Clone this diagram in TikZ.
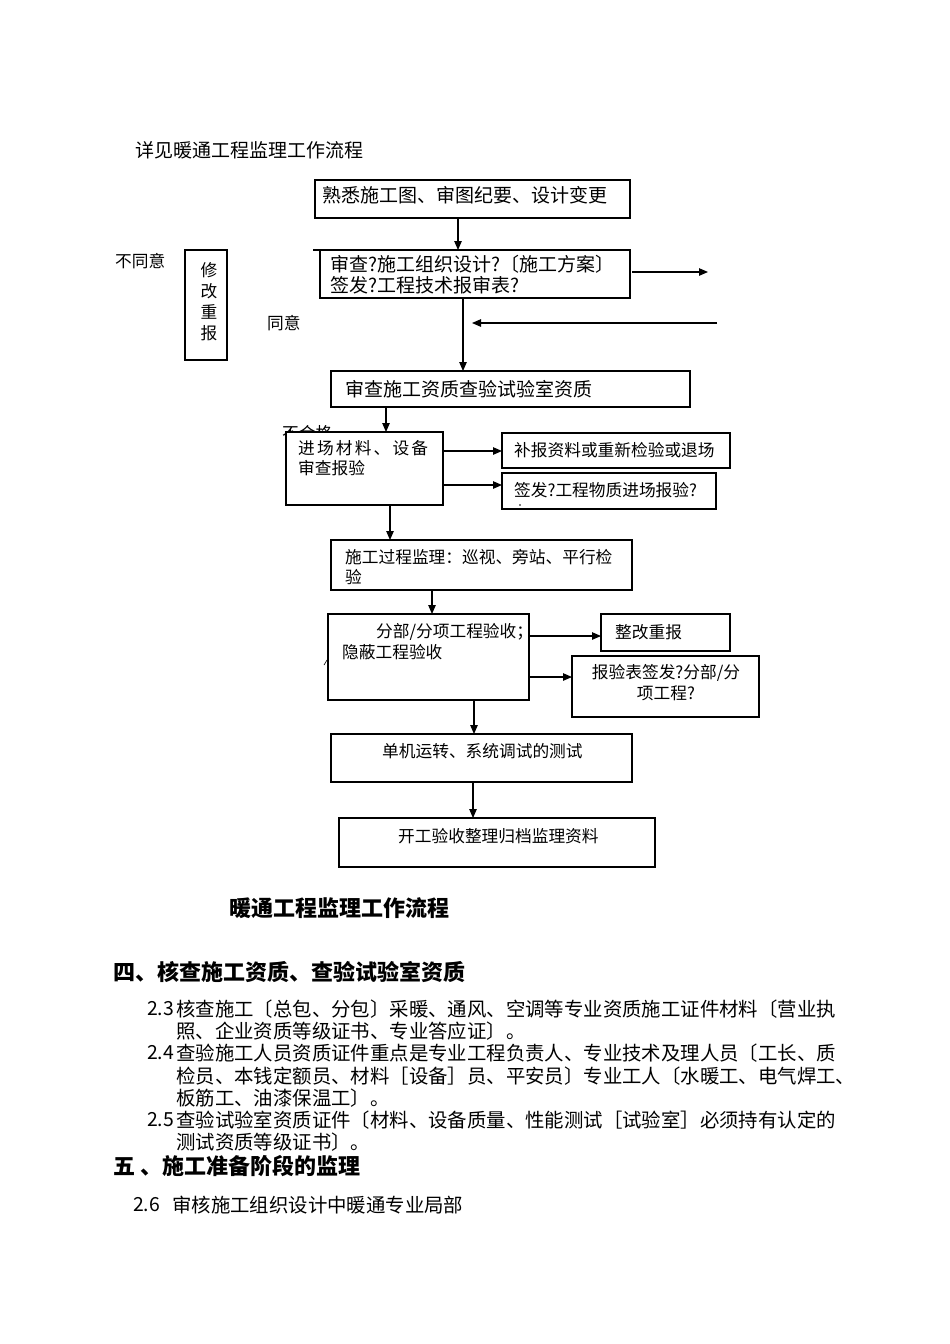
\documentclass[tikz,border=0pt]{standalone}
\usepackage{fontspec}
\setmainfont{Noto Sans CJK SC}
\usetikzlibrary{arrows.meta}
\newcommand\myfs[1]{\fontsize{#1}{#1}\selectfont}
\begin{document}
\begin{tikzpicture}[x=1pt,y=-1pt,
  box/.style={draw, line width=1.1pt, fill=white, inner sep=0pt, outer sep=0pt, anchor=north west},
  txt/.style={anchor=west, inner sep=0pt, font=\myfs{16.7}},
  big/.style={anchor=west, inner sep=0pt, font=\myfs{19}},
  body/.style={anchor=west, inner sep=0pt, font=\myfs{19.4}},
  head/.style={anchor=west, inner sep=0pt, font=\myfs{22}\bfseries},
  arr/.style={-{Triangle[length=9pt,width=7.5pt]}, line width=1.1pt},
  ln/.style={line width=1.1pt}]
\useasboundingbox (0,0) rectangle (950,1344);
\fill[white] (0,0) rectangle (950,1344);

% guide coordinates
\coordinate (x458) at (458,0);
\coordinate (x463) at (463,0);
\coordinate (x386) at (386,0);
\coordinate (x390) at (390,0);
\coordinate (x432) at (432,0);
\coordinate (x474) at (474,0);
\coordinate (x473) at (473,0);
\coordinate (y272) at (0,272);
\coordinate (y451) at (0,451);
\coordinate (y485) at (0,485);
\coordinate (y636) at (0,636);
\coordinate (y677) at (0,677);
\coordinate (outR) at (708,272);
\coordinate (inR) at (717,323);
\coordinate (inL) at (472,323);

\node[big] (title) at (135,150) {详见暖通工程监理工作流程};

% boxes
\node[box, minimum width=315pt, minimum height=38pt] (b1) at (315,180) {};
\node[box, minimum width=310pt, minimum height=48pt] (b2) at (320,250) {};
\node[box, minimum width=42pt, minimum height=110pt] (bx) at (185,250) {};
\node[box, minimum width=359pt, minimum height=36pt] (b3) at (331,371) {};
\node[txt, font=\myfs{16.7}] (ng) at (282,433) {不合格};
\node[box, minimum width=157pt, minimum height=73pt] (b4) at (286,432) {};
\node[box, minimum width=228pt, minimum height=35pt] (b5) at (502,433) {};
\node[box, minimum width=214pt, minimum height=36pt] (b6) at (502,473) {};
\node[box, minimum width=301pt, minimum height=50pt] (b7) at (331,540) {};
\node[box, minimum width=201pt, minimum height=86pt] (b8) at (328,614) {};
\node[box, minimum width=129pt, minimum height=37pt] (b9) at (601,614) {};
\node[box, minimum width=187pt, minimum height=61pt] (b10) at (572,656) {};
\node[box, minimum width=301pt, minimum height=48pt] (b11) at (331,734) {};
\node[box, minimum width=316pt, minimum height=49pt] (b12) at (339,818) {};

% texts
\node[big] (t1) at (322,195) {熟悉施工图、审图纪要、设计变更};
\node[big] (t2a) at (330,264) {审查?施工组织设计?〔施工方案〕};
\node[big] (t2b) at (330,285) {签发?工程技术报审表?};
\node[txt] (nd) at (115,261) {不同意};
\node[txt] (ag) at (267,323) {同意};
\node[txt, anchor=center] (v1) at (209,270) {修};
\node[txt, anchor=center] (v2) at (209,291) {改};
\node[txt, anchor=center] (v3) at (209,312) {重};
\node[txt, anchor=center] (v4) at (209,333) {报};
\node[big] (t3) at (345,389) {审查施工资质查验试验室资质};
\node[txt, font=\myfs{16.7}\addfontfeature{LetterSpace=13}] (t4a) at (298,448) {进场材料、设备};
\node[txt] (t4b) at (298,468) {审查报验};
\node[txt] (t5) at (514,450) {补报资料或重新检验或退场};
\node[txt] (t6) at (514,490) {签发?工程物质进场报验?};
\node[txt] (t7a) at (345,557) {施工过程监理：巡视、旁站、平行检};
\node[txt] (t7b) at (345,577) {验};
\node[txt] (t8a) at (376,632) {分部/分项工程验收；};
\node[txt] (t8b) at (342,652) {隐蔽工程验收};
\node[txt] (t9) at (615,632) {整改重报};
\node[txt, anchor=center] (t10a) at (666,673) {报验表签发?分部/分};
\node[txt, anchor=center] (t10b) at (666,693) {项工程?};
\node[txt] (t11) at (382,751) {单机运转、系统调试的测试};
\node[txt] (t12) at (398,836) {开工验收整理归档监理资料};

% small marks
\draw[ln] (313,250) -- (b2.north west);
\fill (520,505) circle (0.8pt);
\draw[line width=0.6pt] (324,665) -- (327,660);

% connectors
\draw[arr] (b1.south -| x458) -- (b2.north -| x458);
\draw[arr] (b2.east |- y272) ++(2,0) -- (outR);
\draw[arr] (inR) -- (inL);
\draw[arr] (b2.south -| x463) -- (b3.north -| x463);
\draw[arr] (b3.south -| x386) -- (b4.north -| x386);
\draw[arr] (b4.east |- y451) -- (b5.west |- y451);
\draw[arr] (b4.east |- y485) -- (b6.west |- y485);
\draw[arr] (b4.south -| x390) -- (b7.north -| x390);
\draw[arr] (b7.south -| x432) -- (b8.north -| x432);
\draw[arr] (b8.east |- y636) -- (b9.west |- y636);
\draw[arr] (b8.east |- y677) -- (b10.west |- y677);
\draw[arr] (b8.south -| x474) -- (b11.north -| x474);
\draw[arr] (b11.south -| x473) -- (b12.north -| x473);

% caption and text
\node[head] (cap) at (229,908) {暖通工程监理工作流程};
\node[head] (h4) at (113,972) {四、核查施工资质、查验试验室资质};
\node[body] (n23) at (147,1009) {2.3};
\node[body] (p23a) at (176,1009) {核查施工〔总包、分包〕采暖、通风、空调等专业资质施工证件材料〔营业执};
\node[body] (p23b) at (176,1031) {照、企业资质等级证书、专业答应证〕。};
\node[body] (n24) at (147,1053) {2.4};
\node[body] (p24a) at (176,1053) {查验施工人员资质证件重点是专业工程负责人、专业技术及理人员〔工长、质};
\node[body] (p24b) at (176,1076) {检员、本钱定额员、材料［设备］员、平安员〕专业工人〔水暖工、电气焊工、};
\node[body] (p24c) at (176,1098) {板筋工、油漆保温工〕。};
\node[body] (n25) at (147,1120) {2.5};
\node[body] (p25a) at (176,1120) {查验试验室资质证件〔材料、设备质量、性能测试［试验室］必须持有认定的};
\node[body] (p25b) at (176,1142) {测试资质等级证书〕。};
\node[head] (h5) at (113,1166) {五 、施工准备阶段的监理};
\node[body] (n26) at (133,1205) {2.6};
\node[body] (p26) at (172,1205) {审核施工组织设计中暖通专业局部};
\end{tikzpicture}
\end{document}
